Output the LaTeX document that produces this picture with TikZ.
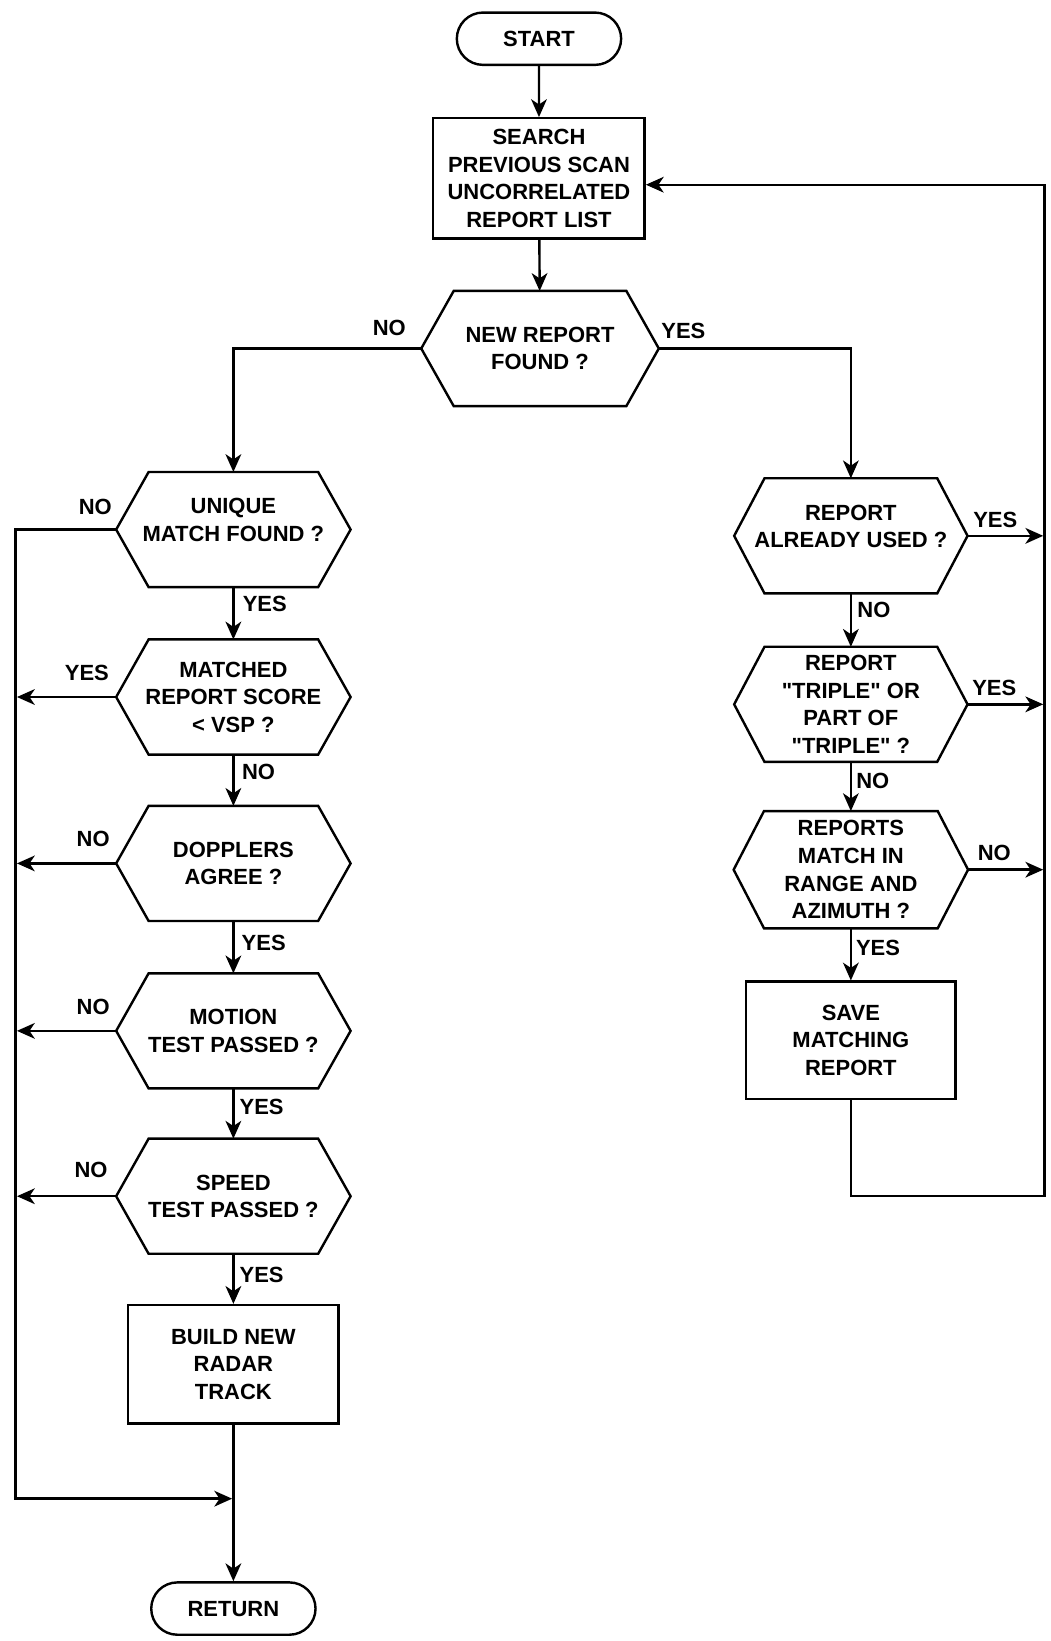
\documentclass[tikz,border=0pt]{standalone}
\usepackage{fontspec}
\setmainfont{Liberation Sans}
\newfontfamily\qfont{Liberation Sans}[Ligatures=NoCommon]
\usetikzlibrary{shapes.misc,arrows.meta,calc}
\tikzset{
  ln/.style={line width=2.3pt, line join=miter},
  arr/.style={ln, -{Stealth[length=17pt,width=15pt,inset=5pt]}},
  toline/.style={arr, shorten >=1.2pt},
  txt/.style={font=\fontsize{21}{26.3}\selectfont\bfseries, align=center, inner sep=0pt},
  boxnode/.style={txt, draw, ln, rectangle},
  term/.style={txt, draw, ln, rounded rectangle, minimum width=157pt, minimum height=50pt},
  hexnode/.style={txt, rectangle, outer sep=0pt, minimum height=110pt},
  lbl/.style={font=\fontsize{21}{26}\selectfont\bfseries, inner sep=0pt},
}
\newcommand\hexframe[2]{\draw[ln] ($(#1.north west)+(#2,0)$) -- ($(#1.north east)+(-#2,0)$) -- (#1.east) -- ($(#1.south east)+(-#2,0)$) -- ($(#1.south west)+(#2,0)$) -- (#1.west) -- cycle;}
\newcommand\dq{{\qfont\bfseries\symbol{34}}}
\begin{document}
\begin{tikzpicture}[x=1pt,y=-1pt]
\useasboundingbox (0,0) rectangle (1004,1568);
% main column
\node[term] (start) at (515,37) {START};
\node[boxnode, minimum width=202pt, minimum height=115pt] (search) at (515,170.5) {SEARCH\\PREVIOUS SCAN\\UNCORRELATED\\REPORT LIST};
\node[hexnode, minimum width=227pt] (nr) at (516,333) {NEW REPORT\\FOUND ?};
\hexframe{nr}{31}
% left column
\node[hexnode, minimum width=224pt] (uq) at (223,506) {UNIQUE\\MATCH FOUND ?\\[-8pt]\mbox{}};
\hexframe{uq}{31}
\node[hexnode, minimum width=224pt] (ms) at (223,666) {MATCHED\\REPORT SCORE\\< VSP ?};
\hexframe{ms}{31}
\node[hexnode, minimum width=224pt] (dp) at (223,825) {DOPPLERS\\AGREE ?};
\hexframe{dp}{31}
\node[hexnode, minimum width=224pt] (mt) at (223,985) {MOTION\\TEST PASSED ?};
\hexframe{mt}{31}
\node[hexnode, minimum width=224pt] (sp) at (223,1143) {SPEED\\TEST PASSED ?};
\hexframe{sp}{31}
\node[boxnode, minimum width=201pt, minimum height=113pt] (bt) at (223,1303.5) {BUILD NEW\\RADAR\\TRACK};
\node[term] (rt) at (223,1537) {RETURN};
% right column
\node[hexnode, minimum width=223pt] (ru) at (813,512) {REPORT\\ALREADY USED ?\\[-8pt]\mbox{}};
\hexframe{ru}{29}
\node[hexnode, minimum width=223pt] (tr) at (813,673) {REPORT\\\dq TRIPLE\dq\ OR\\PART OF\\\dq TRIPLE\dq\ ?};
\hexframe{tr}{29}
\node[hexnode, minimum width=224pt, minimum height=112pt] (rm) at (813,831) {REPORTS\\MATCH IN\\RANGE AND\\AZIMUTH ?};
\hexframe{rm}{29}
\node[boxnode, minimum width=200pt, minimum height=112pt] (sv) at (813,994) {SAVE\\MATCHING\\REPORT};
% corner coordinates
\coordinate (lb) at (15,1432);
\coordinate (rb) at (998,1143);
% connectors
\draw[arr] (start) -- (search);
\draw[arr] (search) -- (nr);
\draw[arr] (nr.west) -| (uq.north);
\draw[arr] (nr.east) -| (ru.north);
\draw[arr] (uq.south) -- (ms.north);
\draw[arr] (ms.south) -- (dp.north);
\draw[arr] (dp.south) -- (mt.north);
\draw[arr] (mt.south) -- (sp.north);
\draw[arr] (sp.south) -- (bt.north);
\draw[arr] (bt.south) -- (rt.north);
\draw[toline] (uq.west) -| (lb) -- (lb -| bt.south);
\draw[toline] (ms.west) -- (ms.west -| lb);
\draw[toline] (dp.west) -- (dp.west -| lb);
\draw[toline] (mt.west) -- (mt.west -| lb);
\draw[toline] (sp.west) -- (sp.west -| lb);
\draw[arr] (ru.south) -- (tr.north);
\draw[arr] (tr.south) -- (rm.north);
\draw[arr] (rm.south) -- (sv.north);
\draw[toline] (ru.east) -- (ru.east -| rb);
\draw[toline] (tr.east) -- (tr.east -| rb);
\draw[toline] (rm.east) -- (rm.east -| rb);
\draw[arr] (sv.south) |- (rb) |- ([yshift=-6pt]search.east);
% labels
\node[lbl] (l1) at (372,313) {NO};
\node[lbl] (l2) at (653,316) {YES};
\node[lbl] (l3) at (91,484) {NO};
\node[lbl] (l4) at (253,577) {YES};
\node[lbl] (l5) at (83,643) {YES};
\node[lbl] (l6) at (247,738) {NO};
\node[lbl] (l7) at (89,802) {NO};
\node[lbl] (l8) at (252,901) {YES};
\node[lbl] (l9) at (89,962) {NO};
\node[lbl] (l10) at (250,1058) {YES};
\node[lbl] (l11) at (87,1118) {NO};
\node[lbl] (l12) at (250,1218) {YES};
\node[lbl] (r1) at (951,497) {YES};
\node[lbl] (r2) at (835,583) {NO};
\node[lbl] (r3) at (950,657) {YES};
\node[lbl] (r4) at (834,746) {NO};
\node[lbl] (r5) at (950,815) {NO};
\node[lbl] (r6) at (839,906) {YES};
\end{tikzpicture}
\end{document}
